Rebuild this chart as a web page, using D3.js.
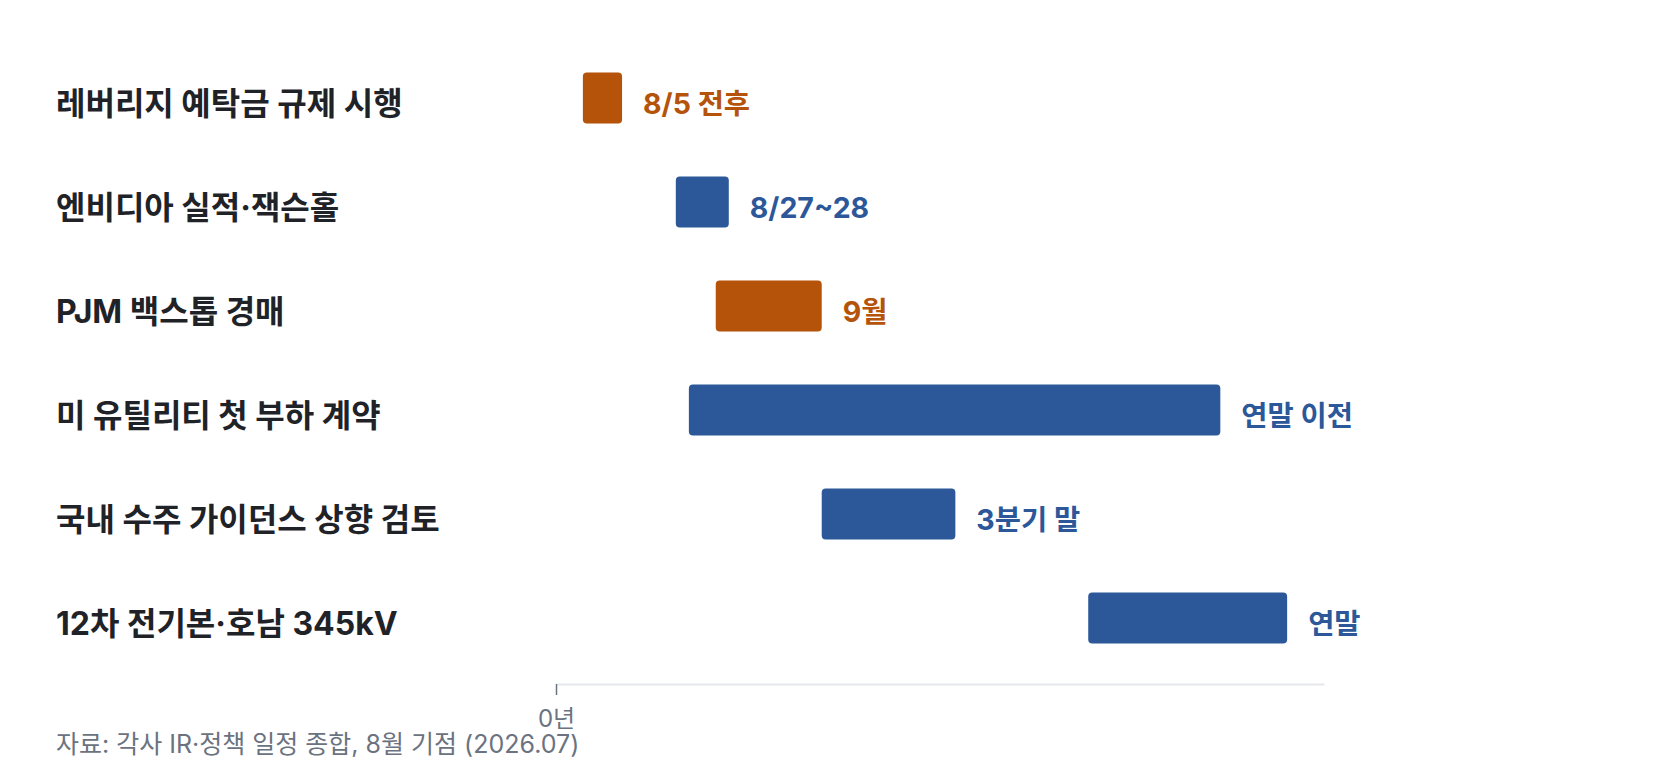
<!DOCTYPE html>
<html><head><meta charset="utf-8">
<script src="https://cdn.jsdelivr.net/npm/d3@7"></script>
<style>
html,body{margin:0;padding:0;background:#fff;}
svg{display:block;font-family:Inter,"Noto Sans CJK KR","Noto Sans",sans-serif;}
</style></head>
<body>
<svg id="c" width="1680" height="772"></svg>
<script>
// timeline position in % of the plotted span
const categories = ["레버리지 예탁금 규제 시행","엔비디아 실적·잭슨홀","PJM 백스톱 경매","미 유틸리티 첫 부하 계약","국내 수주 가이던스 상향 검토","12차 전기본·호남 345kV"];
const startVals = [3.5, 15.6, 20.8, 17.3, 34.6, 69.3];
const endVals   = [8.6, 22.5, 34.6, 86.5, 52.0, 95.2];
const valueLabels = ["8/5 전후","8/27~28","9월","연말 이전","3분기 말","연말"];
const seriesType = ["policy","event","policy","event","event","event"];
const tickVals = [0];
const tickLabels = ["0년"];
const source = "자료: 각사 IR·정책 일정 종합, 8월 기점 (2026.07)";

const colors = {policy:"#b45309", event:"#2c5899"};
const svg = d3.select("#c");
const x = d3.scaleLinear().domain([0,100]).range([556,1324]);
const y = d3.scaleBand().domain(categories).range([46,670]).paddingInner(0.51).paddingOuter(0.255);

// axis
const axisY = 684;
const ax = svg.append("g").attr("transform",`translate(0,${axisY})`)
  .call(d3.axisBottom(x).tickValues(tickVals).tickFormat((d,i)=>tickLabels[i]).tickSizeInner(11).tickSizeOuter(0).tickPadding(15));
ax.select(".domain").attr("stroke","#e5e7eb").attr("stroke-width",2);
ax.selectAll(".tick line").attr("stroke","#6b7280").attr("stroke-width",1.5);
ax.selectAll(".tick text").attr("fill","#6b7280").attr("font-size",24).attr("font-family","Inter,'Noto Sans CJK KR',sans-serif");

// bars
svg.append("g").selectAll("rect").data(categories).join("rect")
  .attr("x",(d,i)=>x(startVals[i]))
  .attr("y",d=>y(d))
  .attr("width",(d,i)=>x(endVals[i])-x(startVals[i]))
  .attr("height",y.bandwidth())
  .attr("rx",4)
  .attr("fill",(d,i)=>colors[seriesType[i]]);

// value labels
svg.append("g").selectAll("text").data(categories).join("text")
  .attr("x",(d,i)=>x(endVals[i])+21)
  .attr("y",d=>y(d)+y.bandwidth()/2+16)
  .attr("font-size",28.5).attr("font-weight",700)
  .attr("fill",(d,i)=>colors[seriesType[i]])
  .text((d,i)=>valueLabels[i]);

// category labels
svg.append("g").selectAll("text").data(categories).join("text")
  .attr("x",56)
  .attr("y",d=>y(d)+y.bandwidth()/2+17)
  .attr("font-size",32).attr("font-weight",700)
  .attr("fill","#1f2328")
  .text(d=>d);

svg.append("text").attr("x",56).attr("y",753)
  .attr("font-size",25).attr("fill","#6b7280").text(source);
</script>
</body></html>
